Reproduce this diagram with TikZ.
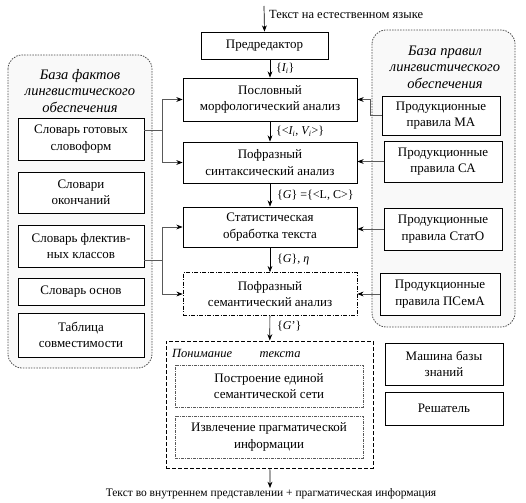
\documentclass[tikz,border=0pt]{standalone}
\usepackage{fontspec}
\setmainfont{Liberation Serif}
\usetikzlibrary{arrows.meta}
\tikzset{
  box/.style   ={draw, line width=0.8pt, fill=white, align=center, inner sep=1pt, font=\fontsize{13}{16.5}\selectfont},
  semb/.style  ={box, dash pattern=on 4pt off 1.5pt on 1pt off 1.5pt, line width=0.6pt},
  inb/.style   ={box, draw=gray!70!black, dash pattern=on 3pt off 1pt on 1pt off 1pt, line width=0.6pt},
  undb/.style  ={draw, dash pattern=on 4pt off 2pt, line width=1pt},
  panel/.style ={draw=gray!60!black, rounded corners=14pt, fill=gray!5, dash pattern=on 1.5pt off 1.2pt, line width=0.8pt},
  ttl/.style   ={align=center, font=\itshape\fontsize{14.5}{16.5}\selectfont},
  arr/.style   ={-{Stealth[length=2.2mm, width=1.7mm, color=black]}, line width=0.7pt},
  conn/.style  ={arr, draw=gray!70!black},
  lbl/.style   ={font=\fontsize{12}{14}\selectfont, inner sep=1pt},
}
\begin{document}
\begin{tikzpicture}[x=1pt, y=-1pt]
  \useasboundingbox (0,0) rectangle (526,502);
  % --- side panels ---
  \draw[panel] (8,55) rectangle (152,368);
  \node[ttl] (lt) at (80,91) {База фактов\\лингвистического\\обеспечения};
  \draw[panel] (372,30) rectangle (515,327);
  \node[ttl] (rt) at (445,67) {База правил\\лингвистического\\обеспечения};
  % --- main chain ---
  \coordinate (src) at (264,6);
  \node[box, minimum width=127, minimum height=27] (pred) at (264.5,45.5) {Предредактор};
  \node[box, minimum width=174, minimum height=43] (morph) at (270,99.5) {Пословный\\морфологический анализ};
  \node[box, minimum width=174, minimum height=41] (synt) at (270,162.5) {Пофразный\\синтаксический анализ};
  \node[box, minimum width=174, minimum height=40] (stat) at (270,227) {Статистическая\\обработка текста};
  \node[semb, minimum width=174, minimum height=43] (sem) at (270,294) {Пофразный\\семантический анализ};
  % --- understanding block ---
  \node[undb, minimum width=207, minimum height=127] (und) at (269.5,404.5) {};
  \node[anchor=west, font=\itshape\fontsize{12.5}{15}\selectfont, inner sep=0pt] (ut) at (172,353) {Понимание\hspace{2.2em}текста};
  \node[inb, minimum width=188, minimum height=42] (net) at (269,386) {Построение единой\\семантической сети};
  \node[inb, minimum width=188, minimum height=42] (prag) at (269,437) {Извлечение прагматической\\информации};
  \coordinate (dst) at (270,488);
  % --- left boxes ---
  \node[box, minimum width=126, minimum height=42] (lb1) at (81,139) {Словарь готовых\\словоформ};
  \node[box, minimum width=126, minimum height=41] (lb2) at (81,192.5) {Словари\\окончаний};
  \node[box, minimum width=126, minimum height=42] (lb3) at (81,246) {Словарь флектив-\\ных классов};
  \node[box, minimum width=126, minimum height=27] (lb4) at (81,291.5) {Словарь основ};
  \node[box, minimum width=126, minimum height=44] (lb5) at (81,335) {Таблица\\совместимости};
  % --- right boxes ---
  \node[box, minimum width=118, minimum height=39] (rma) at (441,115.5) {Продукционные\\правила МА};
  \node[box, minimum width=118, minimum height=41] (rca) at (443,161.5) {Продукционные\\правила СА};
  \node[box, minimum width=118, minimum height=42] (rst) at (443,229) {Продукционные\\правила СтатО};
  \node[box, minimum width=120, minimum height=42] (rsem) at (440,294) {Продукционные\\правила ПСемА};
  \node[box, minimum width=118, minimum height=42] (kbm) at (444,364) {Машина базы\\знаний};
  \node[box, minimum width=118, minimum height=33] (slv) at (444,408.5) {Решатель};
  % --- chain arrows and labels ---
  \draw[arr] (src) -- (pred.north);
  \node[lbl, anchor=west, font=\fontsize{12.5}{14}\selectfont] (intxt) at (268,14) {Текст на естественном языке};
  \draw[arr] (morph.north |- pred.south) -- (morph.north);
  \node[lbl, anchor=west] (l1) at (275,68) {\{\textit{I\textsubscript{i}}\}};
  \draw[arr] (morph) -- (synt);
  \node[lbl, anchor=west] (l2) at (275,131) {\{<\textit{I\textsubscript{i}}, \textit{V\textsubscript{i}}>\}};
  \draw[arr] (synt) -- (stat);
  \node[lbl, anchor=west] (l3) at (276,195) {\{\textit{G}\} =\{<L, C>\}};
  \draw[arr] (stat) -- (sem);
  \node[lbl, anchor=west] (l4) at (276,260) {\{\textit{G}\}, \textit{η}};
  \draw[arr] (sem) -- (und);
  \node[lbl, anchor=west] (l5) at (276,326) {\{\textit{G}'\}};
  \draw[arr] (und) -- (dst);
  \node[lbl, font=\fontsize{11.5}{13}\selectfont] (outtxt) at (271,494) {Текст во внутреннем представлении + прагматическая информация};
  % --- left connectors ---
  \coordinate (j1) at (162,130);
  \coordinate (j2) at (162,260);
  \draw[conn, -] (j1 -| lb1.east) -- (j1);
  \draw[conn] (j1) |- (morph.west);
  \draw[conn] (j1) |- (synt.west);
  \draw[conn, -] (j2 -| lb3.east) -- (j2);
  \draw[conn] (j2) |- (stat.west);
  \draw[conn] (j2) |- (sem.west);
  % --- right connectors ---
  \coordinate (k1) at (370,115.5);
  \draw[conn] (rma.west) -- (k1) |- (morph.east);
  \draw[conn] (rca.west) -- (synt.east |- rca.west);
  \draw[conn] (rst.west) -- (stat.east |- rst.west);
  \draw[conn] (rsem.west) -- (sem.east |- rsem.west);
\end{tikzpicture}
\end{document}
